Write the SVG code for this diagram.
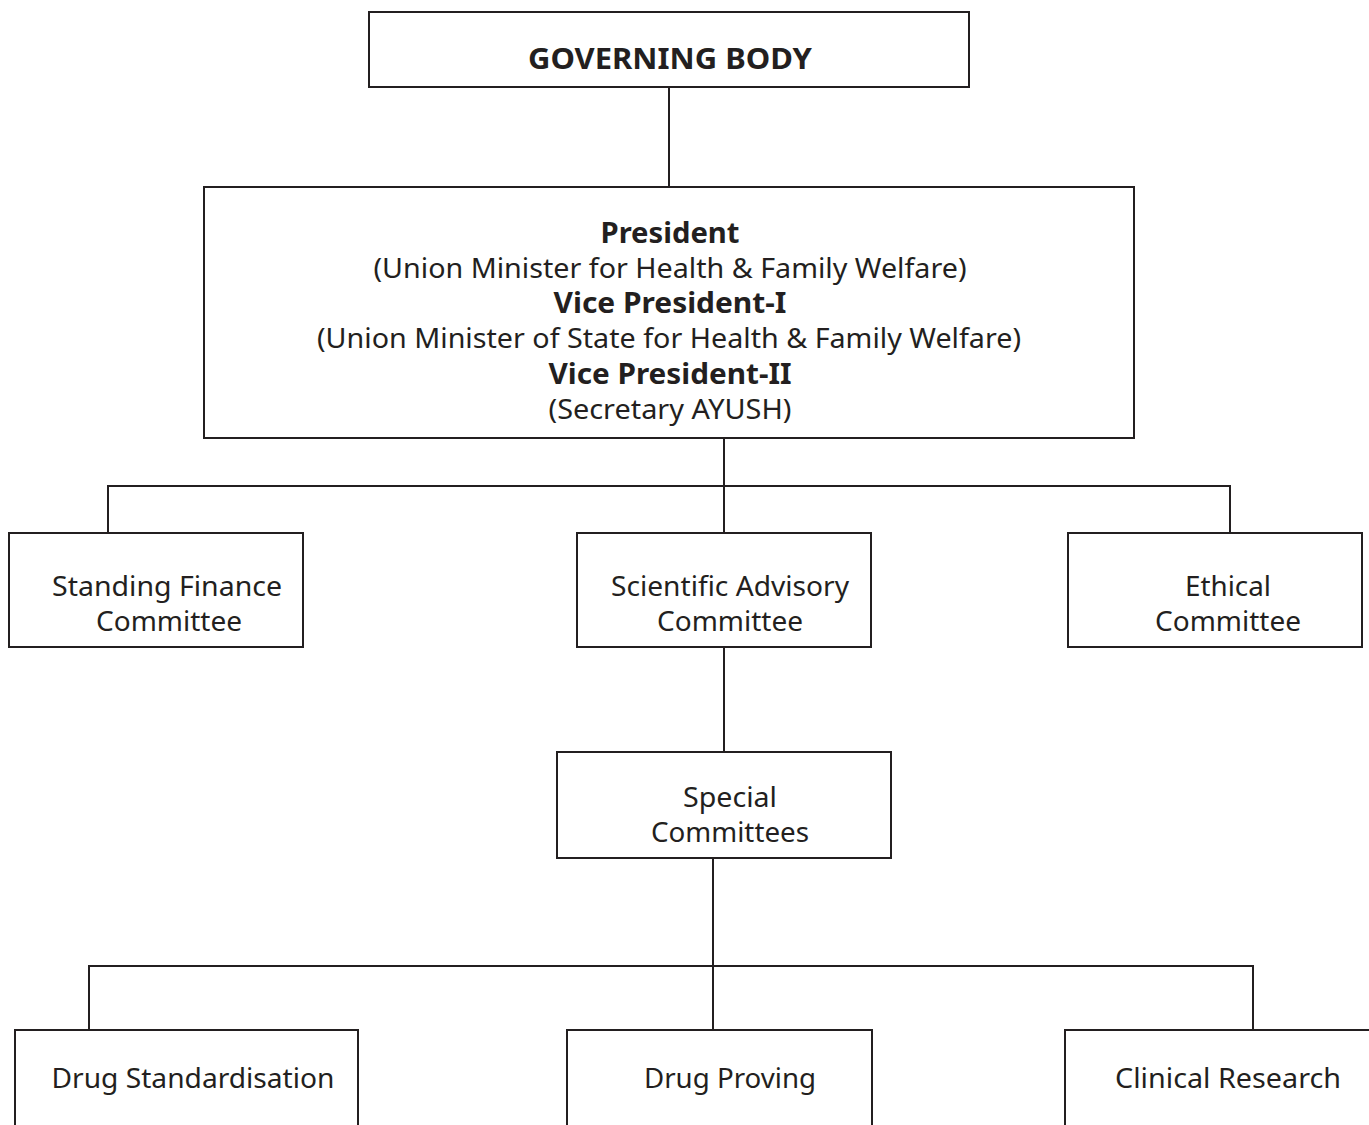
<svg xmlns="http://www.w3.org/2000/svg" width="1369" height="1125" viewBox="0 0 1369 1125">
<style>
.box{fill:#fff;stroke:#231f20;stroke-width:2}
.con{fill:none;stroke:#231f20;stroke-width:2}
text{font-family:"Noto Sans","DejaVu Sans",sans-serif;font-size:28px;fill:#231f20;text-anchor:middle}
.b{font-weight:bold}
</style>
<rect width="1369" height="1125" fill="#fff"/>
<g id="connectors">
<path class="con" d="M669 87V187"/>
<path class="con" d="M724 438V533M108 533V486H1230V533"/>
<path class="con" d="M724 647V752"/>
<path class="con" d="M713 858V1030M89 1030V966H1253V1030"/>
</g>
<g id="governing-body">
<rect class="box" x="369" y="12" width="600" height="75"/>
<text class="b" x="670" y="69" textLength="284" lengthAdjust="spacingAndGlyphs">GOVERNING BODY</text>
</g>
<g id="president">
<rect class="box" x="204" y="187" width="930" height="251"/>
<text class="b" x="670" y="243" textLength="139" lengthAdjust="spacingAndGlyphs">President</text>
<text x="670" y="278" textLength="593" lengthAdjust="spacingAndGlyphs">(Union Minister for Health &amp; Family Welfare)</text>
<text class="b" x="670" y="313" textLength="233" lengthAdjust="spacingAndGlyphs">Vice President-I</text>
<text x="669" y="348" textLength="704" lengthAdjust="spacingAndGlyphs">(Union Minister of State for Health &amp; Family Welfare)</text>
<text class="b" x="670" y="384" textLength="243" lengthAdjust="spacingAndGlyphs">Vice President-II</text>
<text x="670" y="419" textLength="243" lengthAdjust="spacingAndGlyphs">(Secretary AYUSH)</text>
</g>
<g id="standing-finance">
<rect class="box" x="9" y="533" width="294" height="114"/>
<text x="167" y="596" textLength="230" lengthAdjust="spacingAndGlyphs">Standing Finance</text>
<text x="169" y="631" textLength="146" lengthAdjust="spacingAndGlyphs">Committee</text>
</g>
<g id="scientific-advisory">
<rect class="box" x="577" y="533" width="294" height="114"/>
<text x="730" y="596" textLength="238" lengthAdjust="spacingAndGlyphs">Scientific Advisory</text>
<text x="730" y="631" textLength="146" lengthAdjust="spacingAndGlyphs">Committee</text>
</g>
<g id="ethical">
<rect class="box" x="1068" y="533" width="294" height="114"/>
<text x="1228" y="596" textLength="86" lengthAdjust="spacingAndGlyphs">Ethical</text>
<text x="1228" y="631" textLength="146" lengthAdjust="spacingAndGlyphs">Committee</text>
</g>
<g id="special-committees">
<rect class="box" x="557" y="752" width="334" height="106"/>
<text x="730" y="807" textLength="94" lengthAdjust="spacingAndGlyphs">Special</text>
<text x="730" y="842" textLength="158" lengthAdjust="spacingAndGlyphs">Committees</text>
</g>
<g id="drug-standardisation">
<rect class="box" x="15" y="1030" width="343" height="110"/>
<text x="193" y="1088" textLength="283" lengthAdjust="spacingAndGlyphs">Drug Standardisation</text>
</g>
<g id="drug-proving">
<rect class="box" x="567" y="1030" width="305" height="110"/>
<text x="730" y="1088" textLength="172" lengthAdjust="spacingAndGlyphs">Drug Proving</text>
</g>
<g id="clinical-research">
<rect class="box" x="1065" y="1030" width="320" height="110"/>
<text x="1228" y="1088" textLength="226" lengthAdjust="spacingAndGlyphs">Clinical Research</text>
</g>
</svg>
